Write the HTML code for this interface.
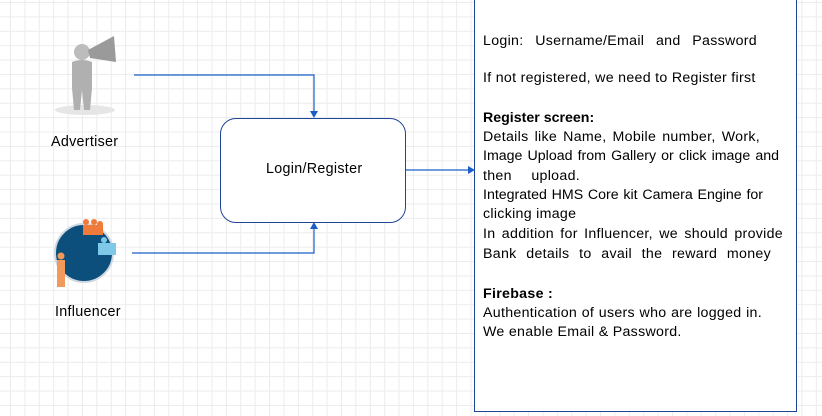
<!DOCTYPE html>
<html><head><style>
body{margin:0;width:822px;height:416px;overflow:hidden;background:#fff;font-family:"Liberation Sans",sans-serif;position:relative;
background-image:linear-gradient(#ececec 1px,transparent 1px),linear-gradient(90deg,#ececec 1px,transparent 1px);background-size:14.4px 14.4px;background-position:10px 2px;}
.t{position:absolute;font-size:14.3px;letter-spacing:0.3px;color:#000;white-space:nowrap}
#box{position:absolute;left:474px;top:-2px;width:321px;height:412px;border:1.5px solid #1f4597;background:#fff}
#rr{position:absolute;left:220px;top:118px;width:184px;height:103px;border:1px solid #1f4597;border-radius:16px;background:#fff}
.l{position:absolute;left:483px;font-size:14.2px;letter-spacing:0.3px;white-space:nowrap;text-align:justify;text-align-last:justify}
</style></head><body>
<svg width="822" height="416" style="position:absolute;left:0;top:0">
<g stroke="#1a5fc8" stroke-width="1.2" fill="none">
<path d="M134 75 H314 V112"/><path d="M132 253 H314 V228"/><path d="M405 170 H470"/>
</g>
<g fill="#1a5fc8"><path d="M310 111 L314 118 L318 111Z"/><path d="M310 229 L314 222 L318 229Z"/><path d="M468 166 L475 170 L468 174Z"/></g>
<ellipse cx="85" cy="110" rx="30" ry="5" fill="#e6e6e6"/>
<circle cx="82" cy="52" r="8" fill="#bcbcbc"/>
<path d="M72 62 Q82 58 92 62 L92 88 L90 110 L84 110 L82 90 L80 110 L74 110 L72 88Z" fill="#b0b0b0"/>
<path d="M88 50 L114 36 L116 62 L90 58Z" fill="#9a9a9a"/>
<circle cx="84" cy="253" r="29" fill="#0c4e7c" stroke="#cfd8e0" stroke-width="2"/>
<g fill="#f07a3a"><circle cx="86" cy="222" r="3"/><circle cx="94" cy="222" r="3"/><circle cx="100" cy="224" r="3"/><rect x="83" y="225" width="20" height="10"/></g>
<g fill="#7ec8e8"><rect x="98" y="243" width="18" height="12"/><circle cx="104" cy="240" r="3"/></g>
<g fill="#f29a5c"><circle cx="61" cy="256" r="3.5"/><rect x="57" y="260" width="8" height="27"/></g>
</svg>
<div class="t" style="left:51px;top:134px">Advertiser</div>
<div class="t" style="left:55px;top:304px">Influencer</div>
<div id="rr"></div>
<div class="t" style="left:266px;top:161px">Login/Register</div>
<div id="box"></div>
<div class="l" style="top:33px;width:274px">Login: Username/Email and Password</div>
<div class="l" style="top:70px;width:270px">If not registered, we need to Register first</div>
<div class="l" style="top:110px;font-weight:bold;width:78px;letter-spacing:0">Register screen:</div>
<div class="l" style="top:129px;width:277px">Details like Name, Mobile number, Work,</div>
<div class="l" style="top:148px;width:296px;letter-spacing:0">Image Upload from Gallery or click image and</div>
<div class="l" style="top:168px;width:97px">then upload.</div>
<div class="l" style="top:187px;width:280px;letter-spacing:0">Integrated HMS Core kit Camera Engine for</div>
<div class="l" style="top:206px;width:91px">clicking image</div>
<div class="l" style="top:226px;width:300px">In addition for Influencer, we should provide</div>
<div class="l" style="top:246px;width:288px">Bank details to avail the reward money</div>
<div class="l" style="top:286px;font-weight:bold;width:63px">Firebase :</div>
<div class="l" style="top:305px;width:279px">Authentication of users who are logged in.</div>
<div class="l" style="top:324px;width:193px">We enable Email &amp; Password.</div>
</body></html>
